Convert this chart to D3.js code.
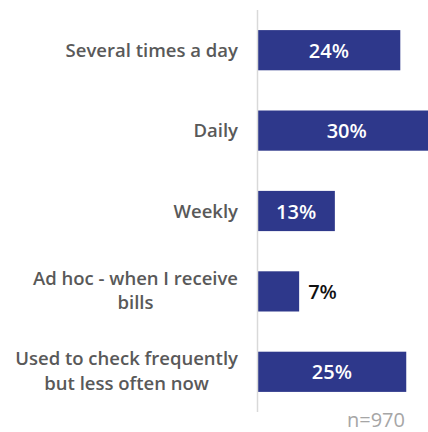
<!DOCTYPE html>
<html>
<head>
<meta charset="utf-8">
<script src="https://cdn.jsdelivr.net/npm/d3@7"></script>
<style>
  body { margin: 0; background: #fff; }
  text { font-family: "Open Sans", sans-serif; }
</style>
</head>
<body>
<div id="chart"></div>
<script>
// data
var categories = [
  "Several times a day",
  "Daily",
  "Weekly",
  "Ad hoc - when I receive bills",
  "Used to check frequently but less often now"
];
var labelLines = [
  ["Several times a day"],
  ["Daily"],
  ["Weekly"],
  ["Ad hoc - when I receive", "bills"],
  ["Used to check frequently", "but less often now"]
];
var values = [24, 30, 13, 7, 25];
var sampleNote = "n=970";

var W = 428, H = 432;
var axisX = 257.5;

var svg = d3.select("#chart")
  .append("svg")
    .attr("width", W)
    .attr("height", H);

var y = d3.scaleBand()
  .domain(categories)
  .range([10, 412])
  .paddingInner(0.5)
  .paddingOuter(0.25);

var x = d3.scaleLinear()
  .domain([0, 30])
  .range([axisX, axisX + 178.5]);

// bars
svg.selectAll("rect.bar")
  .data(categories)
  .join("rect")
    .attr("class", "bar")
    .attr("x", x(0))
    .attr("y", d => y(d))
    .attr("width", (d, i) => x(values[i]) - x(0))
    .attr("height", y.bandwidth())
    .attr("fill", "#2e388b");

// axis line
svg.append("line")
  .attr("x1", axisX).attr("x2", axisX)
  .attr("y1", 10).attr("y2", 412)
  .attr("stroke", "#d9d9d9")
  .attr("stroke-width", 1.5);

// category labels (multi-line centred, right edge at 238)
var labelG = svg.selectAll("g.lab")
  .data(categories)
  .join("g")
    .attr("class", "lab");

labelG.each(function(d, i) {
  var lines = labelLines[i];
  var cy = y(d) + y.bandwidth() / 2;
  var lh = 24.5;
  var t = d3.select(this).append("text")
    .attr("font-size", 18.5)
    .attr("font-weight", 600)
    .attr("fill", "#595959")
    .attr("text-anchor", "middle");
  lines.forEach((ln, k) => {
    t.append("tspan")
      .attr("x", 0)
      .attr("y", cy + (k - (lines.length - 1) / 2) * lh + (lines.length > 1 ? 5.5 : 6.5))
      .text(ln);
  });
  var w = t.node().getBBox().width;
  t.attr("transform", "translate(" + (238 - w / 2) + ",0)");
});

// value labels
svg.selectAll("text.val")
  .data(categories)
  .join("text")
    .attr("class", "val")
    .attr("font-size", 20)
    .attr("font-weight", 600)
    .attr("y", d => y(d) + y.bandwidth() / 2 + 7.5)
    .attr("x", (d, i) => {
      var v = values[i];
      return v < 10 ? x(v) + 9 : (x(0) + x(v)) / 2;
    })
    .attr("text-anchor", (d, i) => values[i] < 10 ? "start" : "middle")
    .attr("fill", (d, i) => values[i] < 10 ? "#111" : "#fff")
    .text((d, i) => values[i] + "%");

// sample size
svg.append("text")
  .attr("x", 405)
  .attr("y", 427)
  .attr("text-anchor", "end")
  .attr("font-size", 20)
  .attr("fill", "#a6a6a6")
  .text(sampleNote);
</script>
</body>
</html>
